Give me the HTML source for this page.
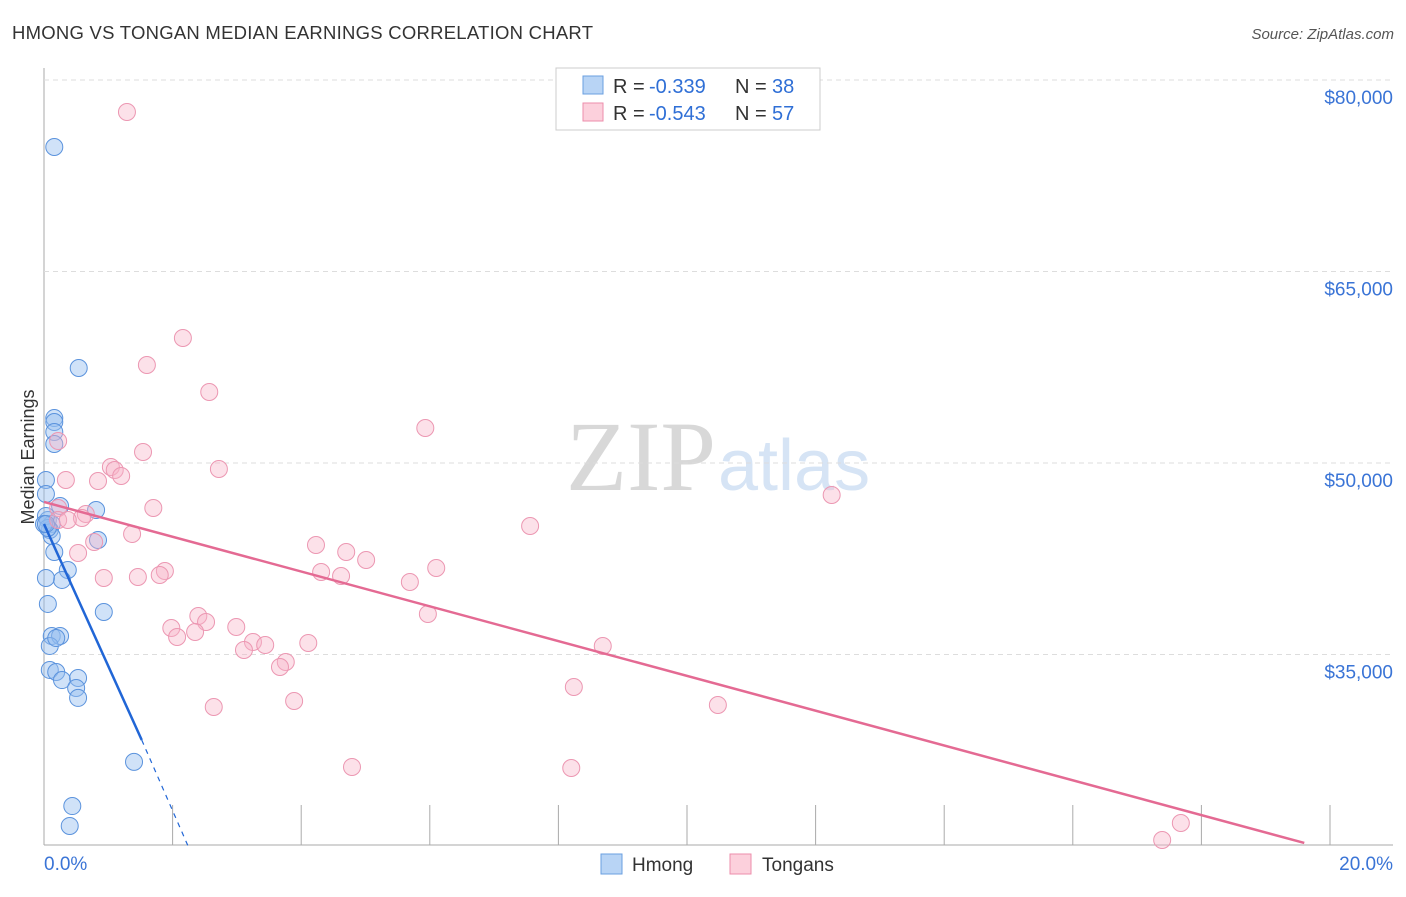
<!DOCTYPE html>
<html><head><meta charset="utf-8"><style>
body{margin:0;background:#fff;font-family:"Liberation Sans",sans-serif}
svg text{font-family:"Liberation Sans",sans-serif}
</style></head><body>
<svg id="c" width="1406" height="892">
<text x="12" y="39" font-size="18.5" fill="#333" textLength="581">HMONG VS TONGAN MEDIAN EARNINGS CORRELATION CHART</text>
<text x="1394" y="39" font-size="15" fill="#555" font-style="italic" text-anchor="end">Source: ZipAtlas.com</text>
<text x="716" y="490" font-size="100" fill="#d8d8d8" text-anchor="end" style="font-family:'Liberation Serif',serif">ZIP</text>
<text x="718" y="490" font-size="72" fill="#d6e4f5">atlas</text>
<g id="grid"></g><g id="pts"></g><g id="lines"></g>
<text transform="translate(34,457) rotate(-90)" font-size="18" fill="#333" text-anchor="middle">Median Earnings</text>
<g>
<rect x="556" y="68" width="264" height="62" fill="#fff" stroke="#ccc"/>
<rect x="583" y="76" width="20" height="18" fill="#b8d4f5" stroke="#6a9fe0"/>
<rect x="583" y="103" width="20" height="18" fill="#fcd0dc" stroke="#ec8eab"/>
<text x="613" y="93" font-size="20" fill="#333">R =</text>
<text x="649" y="93" font-size="20" fill="#2f6fd6">-0.339</text>
<text x="735" y="93" font-size="20" fill="#333">N =</text>
<text x="772" y="93" font-size="20" fill="#2f6fd6">38</text>
<text x="613" y="120" font-size="20" fill="#333">R =</text>
<text x="649" y="120" font-size="20" fill="#2f6fd6">-0.543</text>
<text x="735" y="120" font-size="20" fill="#333">N =</text>
<text x="772" y="120" font-size="20" fill="#2f6fd6">57</text>
</g>
<g>
<rect x="601" y="854" width="21" height="20" fill="#b8d4f5" stroke="#6a9fe0"/>
<text x="632" y="871" font-size="19" fill="#333">Hmong</text>
<rect x="730" y="854" width="21" height="20" fill="#fcd0dc" stroke="#ec8eab"/>
<text x="762" y="871" font-size="19" fill="#333">Tongans</text>
</g>
</svg>
<script>
const xTicks=[0,2,4,6,8,10,12,14,16,18,20];
const yTicks=[35000,50000,65000,80000];
const yTickLabels=["$35,000","$50,000","$65,000","$80,000"];
const hmongX=[0.16,0.54,0.16,0.16,0.16,0.16,0.03,0.03,0.25,0.81,0.06,0.12,0.09,0.12,0.84,0.16,0.37,0.28,0.03,0.06,0.93,0.12,0.25,0.09,0.09,0.19,0.28,0.53,0.50,0.53,1.40,0.44,0.40,0.03,0.06,0,0.19,0.03];
const hmongY=[74750,57440,53520,53210,52430,51490,48670,47570,46630,46320,45540,45220,44750,44280,43970,43030,41620,40840,40990,38960,38330,36450,36450,35670,33790,33630,33000,33160,32380,31600,26590,23130,21570,45850,44910,45220,36290,45220];
const tonganX=[1.29,2.16,1.60,2.57,5.93,0.22,1.54,2.72,1.04,1.10,0.34,1.20,0.84,12.25,0.22,1.70,0.65,0.59,0.22,7.56,0.78,1.37,4.23,4.70,0.53,5.01,4.31,1.88,1.80,4.62,6.10,5.69,0.93,1.46,2.40,5.97,2.52,1.98,2.99,2.07,2.35,3.25,3.44,4.11,3.11,3.76,3.67,8.69,8.24,2.64,3.89,10.48,4.79,8.20,17.68,17.39,0.37];
const tonganY=[77494,59791,57676,55561,52742,51723,50862,49530,49687,49452,48668,48982,48590,47493,46475,46475,46005,45692,45535,45065,43812,44439,43577,43029,42950,42402,41462,41540,41227,41149,41775,40679,40992,41070,38015,38172,37545,37075,37154,36370,36762,35979,35744,35900,35352,34412,34020,35666,32454,30888,31357,31044,26187,26109,21801,20470,45535];
const hmongLine=[[0,45220],[1.52,28300]];
const hmongDash=[[1.52,28300],[2.24,20000]];
const tonganLine=[[0,46950],[19.6,20240]];
const X=v=>44+v*64.3, Y=v=>463-(v-50000)*191.5/15000;
const NS="http://www.w3.org/2000/svg";
function mk(t,a,p){const e=document.createElementNS(NS,t);for(const k in a)e.setAttribute(k,a[k]);p.appendChild(e);return e;}
const g=document.getElementById('grid');
mk('line',{x1:44,y1:68,x2:44,y2:845,stroke:'#aaa'},g);
mk('line',{x1:44,y1:845,x2:1393,y2:845,stroke:'#aaa'},g);
yTicks.forEach((t,i)=>{
 const l=mk('line',{x1:44,y1:Y(t),x2:1393,y2:Y(t),stroke:'#ddd','stroke-dasharray':'5,4'},g);
 
 
 const tx=mk('text',{x:1393,y:Y(t)+24,'font-size':19,fill:'#3a74d6','text-anchor':'end'},g);
 tx.textContent=yTickLabels[i];
 
 
});
xTicks.forEach(t=>{
 const l=mk('line',{x1:X(t),y1:805,x2:X(t),y2:845,stroke:'#aaa'},g);
 
 
});
[[0,'0.0%','start',44],[20,'20.0%','end',1393]].forEach(d=>{
 const tx=mk('text',{x:d[3],y:870,'font-size':19,fill:'#3a74d6','text-anchor':d[2]},g);
 tx.textContent=d[1];
 
 
});
const p=document.getElementById('pts');
hmongX.forEach((x,i)=>{
 const c=mk('circle',{cx:X(x),cy:Y(hmongY[i]),r:8.5,fill:'rgba(150,190,240,0.45)',stroke:'#5b93dd','stroke-width':1},p);
 
 
});
tonganX.forEach((x,i)=>{
 const c=mk('circle',{cx:X(x),cy:Y(tonganY[i]),r:8.5,fill:'rgba(248,180,200,0.4)',stroke:'#ec97b2','stroke-width':1},p);
 
 
});
const L=document.getElementById('lines');
function ln(a,col,w,dash,name){const e=mk('line',{x1:X(a[0][0]),y1:Y(a[0][1]),x2:X(a[1][0]),y2:Y(a[1][1]),stroke:col,'stroke-width':w},L);if(dash)e.setAttribute('stroke-dasharray',dash);
 
 }
ln(hmongLine,'#2166d6',2.5,null,'hmong-trend-line');
ln(hmongDash,'#2166d6',1.2,'5,5','hmong-trend-extension');
ln(tonganLine,'#e46a93',2.5,null,'tongan-trend-line');
</script>
</body></html>
